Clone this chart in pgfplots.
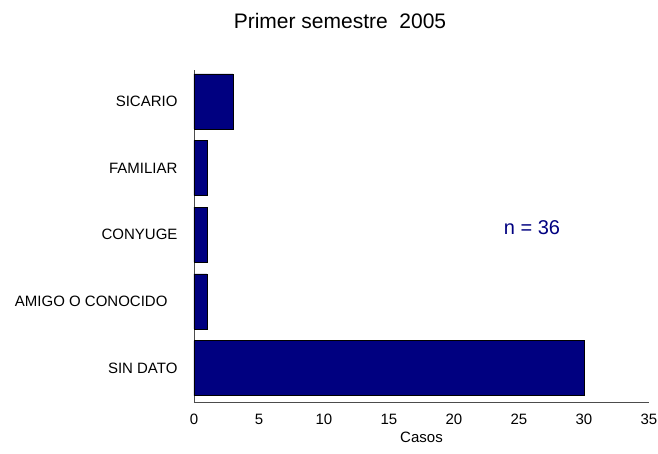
\documentclass[border=0pt]{standalone}
\usepackage{fontspec}
\setmainfont{Liberation Sans}
\usepackage{pgfplots}
\pgfplotsset{compat=1.18}
\definecolor{barnavy}{RGB}{0,0,128}
\begin{document}
\begin{tikzpicture}
\useasboundingbox (-194pt,-51pt) rectangle (464pt,402pt);
\begin{axis}[
    at={(0,0)}, anchor=south west,
    scale only axis,
    width=455pt, height=332pt,
    xbar, bar width=55pt,
    xmin=0, xmax=35,
    ymin=-0.51, ymax=4.47,
    xtick={0,5,...,35},
    ytick={0,1,2,3,4},
    yticklabels={SIN DATO,AMIGO O CONOCIDO\hspace*{10pt},CONYUGE,FAMILIAR,SICARIO},
    axis x line*=bottom, axis y line*=left,
    axis line style={black!70, -},
    major tick length=0pt,
    tick label style={font=\fontsize{15}{17}\selectfont},
    /pgf/number format/assume math mode=true,
    xticklabel style={anchor=north, text height=11pt, text depth=0pt, yshift=-8pt},
    yticklabel style={xshift=-13pt},
    xlabel={Casos},
    xlabel style={font=\fontsize{15}{17}\selectfont, yshift=-1pt},
    clip=false,
]
\addplot[draw=black, fill=barnavy] coordinates {
  (30,0) (1,1) (1,2) (1,3) (3,4)
};
\node[text=barnavy, font=\fontsize{20}{22}\selectfont] at (axis cs:26,2.1) {n = 36};
\end{axis}
\node[font=\fontsize{21}{24}\selectfont] at (146pt,381pt) {Primer semestre\ \ 2005};
\end{tikzpicture}
\end{document}
